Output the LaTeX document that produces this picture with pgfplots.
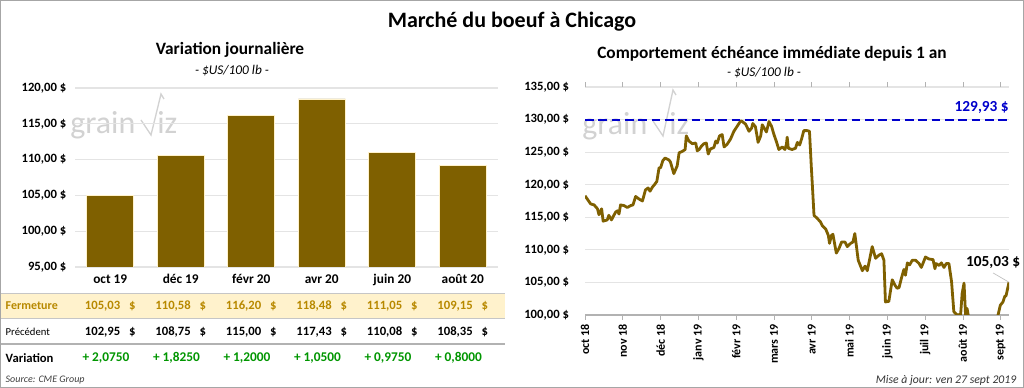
\documentclass[border=0pt]{standalone}
\usepackage{fontspec}
\setmainfont{Carlito}
\usepackage{pgfplots}
\pgfplotsset{compat=1.18}
\definecolor{barc}{RGB}{127,96,0}
\definecolor{beige}{RGB}{255,242,204}
\definecolor{goldt}{RGB}{184,137,0}
\definecolor{greent}{RGB}{0,150,0}
\definecolor{bluel}{RGB}{0,0,204}
\definecolor{gridc}{RGB}{228,228,228}
\newcommand{\fs}[1]{\fontsize{#1}{#1}\selectfont}

\pgfplotstableread{
x y
0.00 118.3
0.15 117.05
0.24 116.9
0.33 116.3
0.37 115.4
0.44 116.3
0.48 114.4
0.59 114.6
0.63 115.3
0.70 114.6
0.81 115.8
0.86 116.0
0.90 115.5
0.94 116.9
1.03 116.8
1.12 116.5
1.21 116.8
1.27 116.9
1.34 118.2
1.43 117.8
1.52 117.5
1.60 119.2
1.67 119.5
1.72 119.0
1.78 119.6
1.85 120.1
1.90 120.5
1.96 122.6
2.00 122.6
2.06 123.7
2.12 124.1
2.22 123.8
2.26 123.5
2.35 121.7
2.44 122.9
2.49 124.9
2.57 125.1
2.65 125.4
2.68 127.5
2.75 126.7
2.84 126.3
2.93 126.4
2.97 125.2
3.02 125.4
3.08 125.9
3.15 126.3
3.21 126.4
3.26 124.7
3.32 125.5
3.41 125.7
3.46 126.7
3.50 126.4
3.56 127.5
3.63 127.7
3.68 125.8
3.76 126.2
3.85 127.0
3.94 128.2
4.03 129.0
4.12 129.8
4.16 129.7
4.25 129.3
4.34 128.2
4.41 128.7
4.44 129.4
4.51 128.9
4.58 126.5
4.65 127.5
4.69 129.2
4.76 128.5
4.80 128.1
4.87 129.7
4.94 128.9
5.00 127.7
5.06 126.7
5.13 125.4
5.22 125.8
5.29 125.4
5.33 126.2
5.35 127.3
5.38 125.6
5.48 125.4
5.57 125.6
5.62 126.5
5.68 126.1
5.73 127.0
5.79 128.3
5.88 128.3
5.94 128.2
5.99 122.6
6.01 120.6
6.06 115.3
6.15 114.8
6.23 114.3
6.28 113.7
6.37 113.2
6.44 112.2
6.47 111.0
6.52 112.2
6.56 112.4
6.65 109.5
6.72 110.2
6.79 111.2
6.88 111.2
6.94 110.5
7.03 111.0
7.09 111.2
7.14 112.5
7.23 108.4
7.34 106.8
7.41 107.5
7.47 106.8
7.53 108.5
7.60 110.5
7.69 108.7
7.78 109.2
7.85 109.4
7.91 108.4
7.95 102.0
8.04 102.1
8.13 105.4
8.20 104.6
8.26 104.1
8.31 104.2
8.38 105.8
8.44 107.0
8.48 106.1
8.53 108.0
8.59 107.7
8.66 108.4
8.75 108.4
8.84 107.9
8.90 107.3
9.01 108.9
9.10 108.6
9.21 108.5
9.26 107.1
9.29 107.9
9.37 107.6
9.43 108.0
9.50 107.3
9.56 107.9
9.63 107.9
9.70 105.1
9.76 100.5
9.85 100.0
9.94 100.1
9.98 103.3
10.03 104.9
10.07 100.0
10.11 101.0
10.17 99.0
10.25 98.5
10.59 98.5
10.85 98.8
10.93 100.0
10.99 101.5
11.06 102.0
11.11 102.9
11.14 102.9
11.22 105.03
}\linedata

\begin{document}
\begin{tikzpicture}[x=0.75pt,y=0.75pt]
\useasboundingbox (0,0) rectangle (1024,388);
\fill[white] (0,0) rectangle (1024,388);

% titles
\node[font=\fs{16.5}\bfseries] at (512,366) {Marché du boeuf à Chicago};
\node[font=\fs{13}\bfseries] at (230,338) {Variation journalière};
\node[font=\fs{10}\itshape] at (232,317) {- \$US/100 lb -};
\node[font=\fs{13}\bfseries] at (772,334) {Comportement échéance immédiate depuis 1 an};
\node[font=\fs{10}\itshape] at (764,315) {- \$US/100 lb -};

% watermarks
\node[font=\fs{24}, text=gray!35, anchor=base west, inner sep=0] at (70,254) {grain};
\draw[gray!35, line width=1pt] (141,268) -- (151,253) -- (161,294) -- (164,289);
\node[font=\fs{24}, text=gray!35, anchor=base west, inner sep=0] at (157,254) {iz};
\node[font=\fs{24}, text=gray!35, anchor=base west, inner sep=0] at (582,253) {grain};
\draw[gray!35, line width=1pt] (653,267) -- (663,252) -- (673,298) -- (676,293);
\node[font=\fs{24}, text=gray!35, anchor=base west, inner sep=0] at (669,253) {iz};

% left bar chart
\begin{axis}[at={(56.25pt,90.75pt)}, anchor=south west, scale only axis,
  width=317.25pt, height=134.25pt,
  xmin=-0.5, xmax=5.5, ymin=95, ymax=120,
  ytick={95,100,...,120},
  yticklabels={95{,}00 \$,100{,}00 \$,105{,}00 \$,110{,}00 \$,115{,}00 \$,120{,}00 \$},
  xtick={0,...,5},
  xticklabels={oct 19,déc 19,févr 20,avr 20,juin 20,août 20},
  /pgf/number format/assume math mode=true,
  axis line style={draw=none}, major tick length=0,
  ymajorgrids, grid style={gridc, line width=0.9pt},
  yticklabel style={font=\fs{9.5}\bfseries, xshift=-3pt},
  xticklabel style={font=\fs{10}\bfseries, yshift=-2pt},
  ybar, bar width=35.25pt, clip=true]
\addplot[fill=barc, draw=beige, line width=0.5pt] coordinates {(0,105.03) (1,110.58) (2,116.20) (3,118.48) (4,111.05) (5,109.15)};
\end{axis}

% table
\fill[beige] (1,95) rectangle (505,70);
\draw[gray!45, line width=0.6pt] (1,95) -- (505,95);
\draw[gray!45, line width=0.6pt] (1,70) -- (505,70);
\draw[gray!60, line width=2.2pt] (1,44) -- (505,44);
\node[font=\fs{9}\bfseries, text=goldt, anchor=west] at (1,82) {Fermeture};
\node[font=\fs{8}, anchor=west] at (1,56) {Précédent};
\node[font=\fs{9.5}\bfseries, anchor=west] at (1,30) {Variation};
\foreach \v/\p/\d [count=\i from 0] in {105{,}03/102{,}95/2{,}0750, 110{,}58/108{,}75/1{,}8250, 116{,}20/115{,}00/1{,}2000, 118{,}48/117{,}43/1{,}0500, 111{,}05/110{,}08/0{,}9750, 109{,}15/108{,}35/0{,}8000}{
  \node[font=\fs{9.5}\bfseries, text=goldt] at (110.25+70.5*\i,82) {\v\hspace{0.7em}\$};
  \node[font=\fs{9.5}\bfseries] at (110.25+70.5*\i,56) {\p\hspace{0.7em}\$};
  \node[font=\fs{10}\bfseries, text=greent] at (106+70.5*\i,30) {+ \d};
}
\node[font=\fs{7.5}\itshape, text=black!75, anchor=west] at (1,8) {Source: CME Group};
\node[font=\fs{8.8}\itshape, text=black!80, anchor=east] at (1021,8) {Mise à jour: ven 27 sept 2019};

% right line chart
\begin{axis}[at={(438.75pt,54.75pt)}, anchor=south west, scale only axis,
  width=318pt, height=171pt,
  xmin=0, xmax=11.22, ymin=100, ymax=135,
  ytick={100,105,...,135},
  yticklabels={100{,}00 \$,105{,}00 \$,110{,}00 \$,115{,}00 \$,120{,}00 \$,125{,}00 \$,130{,}00 \$,135{,}00 \$},
  xtick={0,...,11},
  xticklabels={oct 18,nov 18,déc 18,janv 19,févr 19,mars 19,avr 19,mai 19,juin 19,juil 19,août 19,sept 19},
  /pgf/number format/assume math mode=true,
  axis line style={draw=none},
  ymajorgrids, grid style={gridc, line width=0.9pt},
  ytick style={draw=none},
  xtick style={draw=gray!60, line width=0.6pt},
  tick align=outside, major tick length=3.5pt,
  yticklabel style={font=\fs{9.5}\bfseries, xshift=-5pt},
  xticklabel style={font=\fs{9}\bfseries, rotate=90, anchor=east, xshift=0pt},
  clip mode=individual]
\draw[gray!60, line width=0.8pt] (axis cs:0,100) -- (axis cs:11.22,100);
\addplot[barc, line width=2.1pt, line join=round] table {\linedata};
\addplot[bluel, line width=2pt, dash pattern=on 6.5pt off 3.5pt] coordinates {(0,129.93) (11.22,129.93)};
\node[font=\fs{11.5}\bfseries, text=bluel, anchor=east, inner sep=0] at (axis cs:11.22,131.8) {129,93 \$};
\draw[gray!50, line width=0.5pt] (axis cs:10.80,106.45) -- (axis cs:11.22,105.03);
\node[font=\fs{11.5}\bfseries, inner sep=0] at (axis cs:10.80,108.1) {105,03 \$};
\end{axis}

\draw[gray!70, line width=1.2pt] (0.6,0.6) rectangle (1023.4,387.4);
\end{tikzpicture}
\end{document}
